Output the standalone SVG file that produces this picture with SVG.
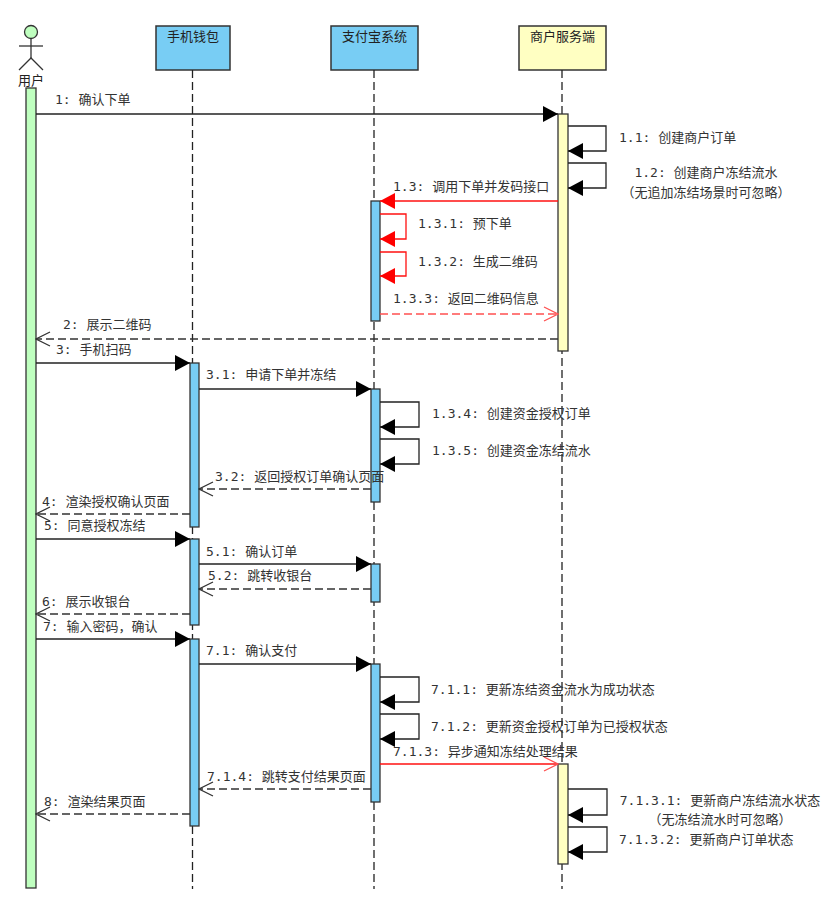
<svg xmlns="http://www.w3.org/2000/svg" width="828" height="901" viewBox="0 0 828 901">
<style>
.bg{fill:#ffffff}
.box{stroke:#333333;stroke-width:1.5}
.blue{fill:#78CDF4}
.yellow{fill:#FFFFC2}
.green{fill:#BFFFBF}
.title{font-family:"Noto Sans CJK SC","Liberation Sans",sans-serif;font-size:13px;fill:#222222;text-anchor:middle}
.life{stroke:#222222;stroke-width:1.3;stroke-dasharray:8,4;fill:none}
.act{stroke:#333333;stroke-width:1.3}
.msg{stroke:#222222;stroke-width:1.3;fill:none}
.ret{stroke:#333333;stroke-width:1.3;fill:none;stroke-dasharray:8,4}
.red{stroke:#FF1010;stroke-width:1.3;fill:none}
.redret{stroke:#FF5050;stroke-width:1.3;fill:none;stroke-dasharray:8,4}
.lbl{font-family:"DejaVu Sans Mono","Noto Sans CJK SC",monospace;font-size:13px;fill:#333333}
.mid{text-anchor:middle}
</style>
<defs>
<marker id="fb" markerUnits="userSpaceOnUse" viewBox="0 0 16 16" refX="15" refY="8" markerWidth="16" markerHeight="16" orient="auto">
<path d="M0,0 L15,8 L0,16 z" fill="#000000"/>
</marker>
<marker id="fr" markerUnits="userSpaceOnUse" viewBox="0 0 16 16" refX="15" refY="8" markerWidth="16" markerHeight="16" orient="auto">
<path d="M0,0 L15,8 L0,16 z" fill="#FF0000"/>
</marker>
<marker id="ob" markerUnits="userSpaceOnUse" viewBox="0 0 16 16" refX="15" refY="8" markerWidth="16" markerHeight="16" orient="auto">
<path d="M1,1 L15,8 L1,15" fill="none" stroke="#333333" stroke-width="1.3"/>
</marker>
<marker id="or" markerUnits="userSpaceOnUse" viewBox="0 0 16 16" refX="15" refY="8" markerWidth="16" markerHeight="16" orient="auto">
<path d="M1,1 L15,8 L1,15" fill="none" stroke="#FF5050" stroke-width="1.3"/>
</marker>
</defs>
<rect class="bg" x="0" y="0" width="828" height="901"/>

<g id="user">
<circle cx="31" cy="32" r="6.5" fill="#BFFFBF" stroke="#333333" stroke-width="1.3"/>
<line x1="31" y1="38.5" x2="31" y2="58" stroke="#333333" stroke-width="1.3"/>
<line x1="19" y1="46" x2="43" y2="46" stroke="#333333" stroke-width="1.3"/>
<path d="M19,70 L31,58 L43,70" fill="none" stroke="#333333" stroke-width="1.3"/>
<text class="title" x="31" y="85">用户</text>
<rect class="act green" x="26" y="88" width="10" height="800"/>
</g>

<g id="wallet">
<rect class="box blue" x="156" y="26" width="74" height="44"/>
<text class="title" x="193" y="41">手机钱包</text>
<line class="life" x1="192.5" y1="70" x2="192.5" y2="889"/>
<rect class="act blue" x="190" y="363" width="9" height="164"/>
<rect class="act blue" x="190" y="539" width="9" height="86"/>
<rect class="act blue" x="190" y="639" width="9" height="187"/>
</g>

<g id="alipay">
<rect class="box blue" x="331" y="26" width="87" height="44"/>
<text class="title" x="374.5" y="41">支付宝系统</text>
<line class="life" x1="374" y1="70" x2="374" y2="889"/>
<rect class="act blue" x="371" y="201" width="9" height="120"/>
<rect class="act blue" x="371" y="389" width="9" height="113"/>
<rect class="act blue" x="371" y="564" width="9" height="38"/>
<rect class="act blue" x="371" y="664" width="9" height="138"/>
</g>

<g id="merchant">
<rect class="box yellow" x="519" y="26" width="87" height="44"/>
<text class="title" x="562.5" y="41">商户服务端</text>
<line class="life" x1="562" y1="70" x2="562" y2="889"/>
<rect class="act yellow" x="558" y="114" width="10" height="237"/>
<rect class="act yellow" x="558" y="764" width="10" height="100"/>
</g>

<g id="connectors">
<path class="msg" d="M36,114 H558" marker-end="url(#fb)"/>
<path class="msg" d="M568,126 H606 V151 H568" marker-end="url(#fb)"/>
<path class="msg" d="M568,163 H606 V188 H568" marker-end="url(#fb)"/>
<path class="red" d="M558,201 H380" marker-end="url(#fr)"/>
<path class="red" d="M380,214 H406 V239 H380" marker-end="url(#fr)"/>
<path class="red" d="M380,252 H406 V276 H380" marker-end="url(#fr)"/>
<path class="redret" d="M380,314 H558" marker-end="url(#or)"/>
<path class="ret" d="M558,339 H36" marker-end="url(#ob)"/>
<path class="msg" d="M36,363 H190" marker-end="url(#fb)"/>
<path class="msg" d="M199,389 H371" marker-end="url(#fb)"/>
<path class="msg" d="M380,402 H419 V427 H380" marker-end="url(#fb)"/>
<path class="msg" d="M380,439 H419 V464 H380" marker-end="url(#fb)"/>
<path class="ret" d="M371,489 H199" marker-end="url(#ob)"/>
<path class="ret" d="M190,514 H36" marker-end="url(#ob)"/>
<path class="msg" d="M36,539 H190" marker-end="url(#fb)"/>
<path class="msg" d="M199,564 H371" marker-end="url(#fb)"/>
<path class="ret" d="M371,589 H199" marker-end="url(#ob)"/>
<path class="ret" d="M190,614 H36" marker-end="url(#ob)"/>
<path class="msg" d="M36,639 H190" marker-end="url(#fb)"/>
<path class="msg" d="M199,664 H371" marker-end="url(#fb)"/>
<path class="msg" d="M380,677 H419 V702 H380" marker-end="url(#fb)"/>
<path class="msg" d="M380,714 H419 V739 H380" marker-end="url(#fb)"/>
<path class="red" d="M380,764 H558" marker-end="url(#or)"/>
<path class="ret" d="M371,789 H199" marker-end="url(#ob)"/>
<path class="ret" d="M190,814 H36" marker-end="url(#ob)"/>
<path class="msg" d="M568,789 H607 V815 H568" marker-end="url(#fb)"/>
<path class="msg" d="M568,827 H607 V852 H568" marker-end="url(#fb)"/>
</g>

<g id="labels">
<text class="lbl" x="55" y="104">1: 确认下单</text>
<text class="lbl" x="619" y="142">1.1: 创建商户订单</text>
<text class="lbl mid" x="706" y="177">1.2: 创建商户冻结流水</text>
<text class="lbl mid" x="706" y="197">（无追加冻结场景时可忽略）</text>
<text class="lbl" x="393" y="191">1.3: 调用下单并发码接口</text>
<text class="lbl" x="418" y="228">1.3.1: 预下单</text>
<text class="lbl" x="418" y="266">1.3.2: 生成二维码</text>
<text class="lbl" x="393" y="303">1.3.3: 返回二维码信息</text>
<text class="lbl" x="63" y="329">2: 展示二维码</text>
<text class="lbl" x="56" y="354">3: 手机扫码</text>
<text class="lbl" x="206" y="379">3.1: 申请下单并冻结</text>
<text class="lbl" x="432" y="418">1.3.4: 创建资金授权订单</text>
<text class="lbl" x="432" y="455">1.3.5: 创建资金冻结流水</text>
<text class="lbl" x="215" y="481">3.2: 返回授权订单确认页面</text>
<text class="lbl" x="42" y="506">4: 渲染授权确认页面</text>
<text class="lbl" x="44" y="530">5: 同意授权冻结</text>
<text class="lbl" x="206" y="556">5.1: 确认订单</text>
<text class="lbl" x="208" y="580">5.2: 跳转收银台</text>
<text class="lbl" x="42" y="606">6: 展示收银台</text>
<text class="lbl" x="43" y="631">7: 输入密码，确认</text>
<text class="lbl" x="206" y="655">7.1: 确认支付</text>
<text class="lbl" x="431" y="694">7.1.1: 更新冻结资金流水为成功状态</text>
<text class="lbl" x="431" y="731">7.1.2: 更新资金授权订单为已授权状态</text>
<text class="lbl" x="393" y="756">7.1.3: 异步通知冻结处理结果</text>
<text class="lbl" x="207" y="781">7.1.4: 跳转支付结果页面</text>
<text class="lbl" x="44" y="806">8: 渲染结果页面</text>
<text class="lbl mid" x="720" y="805">7.1.3.1: 更新商户冻结流水状态</text>
<text class="lbl mid" x="720" y="824">（无冻结流水时可忽略）</text>
<text class="lbl" x="619" y="844">7.1.3.2: 更新商户订单状态</text>
</g>
</svg>
